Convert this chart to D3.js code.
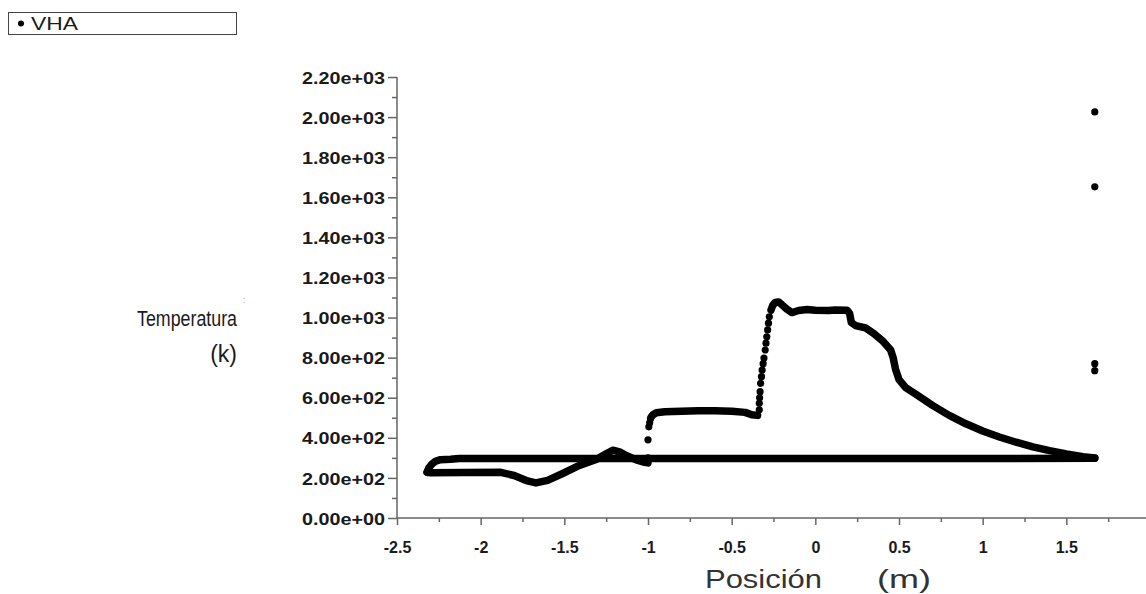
<!DOCTYPE html>
<html>
<head>
<meta charset="utf-8">
<script src="https://cdn.jsdelivr.net/npm/d3@7"></script>
<style>
  body { margin: 0; background: #fff; }
  svg { display: block; font-family: "Liberation Sans", Arial, sans-serif; }
</style>
</head>
<body>
<div id="chart"></div>
<script>
// Tick values and labels
const xTicks = [-2.5, -2, -1.5, -1, -0.5, 0, 0.5, 1, 1.5, 2];
const xTickLabels = ["-2.5", "-2", "-1.5", "-1", "-0.5", "0", "0.5", "1", "1.5", "2"];
const yTicks = [0, 200, 400, 600, 800, 1000, 1200, 1400, 1600, 1800, 2000, 2200];
const yTickLabels = ["0.00e+00", "2.00e+02", "4.00e+02", "6.00e+02", "8.00e+02", "1.00e+03",
                     "1.20e+03", "1.40e+03", "1.60e+03", "1.80e+03", "2.00e+03", "2.20e+03"];

// VHA series (position m, temperature K)
// dense branches
const flatX = [-2.32, -2.31, -2.29, -2.27, -2.24, -2.18, -2.13, -1.5, -1.0, 0, 1.0, 1.67];
const flatT = [228, 250, 270, 283, 291, 293, 297, 297, 297, 297, 297, 298];

const lowX = [-2.32, -2.30, -2.10, -1.88, -1.80, -1.72, -1.67, -1.60, -1.51, -1.41, -1.31, -1.25, -1.21, -1.17, -1.13, -1.07, -1.02, -1.0];
const lowT = [228, 226, 227, 228, 212, 185, 175, 188, 222, 262, 292, 320, 338, 330, 312, 290, 278, 275];

const plateauX = [-0.98, -0.97, -0.95, -0.9, -0.8, -0.7, -0.6, -0.5, -0.42, -0.38, -0.345];
const plateauT = [505, 515, 525, 530, 533, 535, 535, 533, 527, 515, 512];

const topX = [-0.265, -0.255, -0.24, -0.22, -0.2, -0.17, -0.14, -0.1, -0.05, 0, 0.08, 0.12, 0.19, 0.205, 0.215,
              0.24, 0.3, 0.35, 0.4, 0.45, 0.465, 0.48, 0.5, 0.54, 0.6, 0.7, 0.8, 0.9, 1.0, 1.1, 1.2, 1.3, 1.4, 1.5, 1.6, 1.67];
const topT = [1037, 1060, 1075, 1078, 1064, 1042, 1025, 1035, 1040, 1036, 1035, 1038, 1037, 1020, 975,
              960, 948, 920, 885, 838, 800, 740, 690, 650, 618, 562, 512, 470, 434, 404, 378, 355, 336, 320, 306, 299];

// sparse points (jumps and outliers)
const sparseX = [-1.0, -1.0, -1.0, -0.995, -0.99, -0.985,
                 -0.335, -0.335, -0.333, -0.33, -0.327, -0.322, -0.318, -0.312, -0.307, -0.30, -0.295, -0.29, -0.285, -0.28, -0.275,
                 1.67, 1.67, 1.67, 1.67];
const sparseT = [300, 288, 390, 455, 475, 495,
                 540, 572, 600, 630, 672, 705, 738, 770, 798, 838, 872, 904, 938, 972, 1004,
                 735, 770, 1652, 2026];

const width = 1146, height = 594;
const svg = d3.select("#chart").append("svg")
    .attr("width", width)
    .attr("height", height);

const x = d3.scaleLinear().domain([-2.5, 2]).range([397, 1150]);
const y = d3.scaleLinear().domain([0, 2200]).range([518, 77]);

const axisColor = "#666";
const textColor = "#1a1a1a";

// minor ticks halfway between the majors
const xMinor = xTicks.slice(0, -1).map((t, i) => (t + xTicks[i + 1]) / 2);
const yMinor = yTicks.slice(0, -1).map((t, i) => (t + yTicks[i + 1]) / 2);

// x axis
const gx = svg.append("g").attr("transform", `translate(0,${y(0)})`);
gx.call(d3.axisBottom(x).tickValues(xMinor).tickSize(4).tickFormat(""));
gx.call(g => g.append("g").call(d3.axisBottom(x).tickValues(xTicks).tickSize(7)
    .tickFormat((d, i) => xTickLabels[i])));
gx.selectAll(".domain").remove();
gx.append("line").attr("x1", x(-2.5)).attr("x2", width).attr("stroke", axisColor).attr("stroke-width", 1.5);
gx.selectAll("line").attr("stroke", axisColor).attr("stroke-width", 1.5);
gx.selectAll("text")
    .attr("fill", textColor)
    .style("font-size", "16px")
    .style("font-weight", "bold")
    .attr("y", 35)
    .attr("dy", 0);

// y axis
const gy = svg.append("g").attr("transform", `translate(${x(-2.5)},0)`);
gy.call(d3.axisLeft(y).tickValues(yMinor).tickSize(5).tickFormat(""));
gy.call(g => g.append("g").call(d3.axisLeft(y).tickValues(yTicks).tickSize(9)
    .tickFormat((d, i) => yTickLabels[i])));
gy.selectAll(".domain").remove();
gy.append("line").attr("y1", y(0)).attr("y2", y(2200)).attr("stroke", axisColor).attr("stroke-width", 1.5);
gy.selectAll("line").attr("stroke", axisColor).attr("stroke-width", 1.5);
gy.selectAll("text")
    .attr("fill", textColor)
    .style("font-size", "17px")
    .style("font-weight", "bold")
    .attr("x", -12)
    .attr("dy", "0.36em")
    .attr("textLength", 83)
    .attr("lengthAdjust", "spacingAndGlyphs");

// data marks
const line = d3.line().x(d => x(d[0])).y(d => y(d[1]));
const dense = [
    d3.zip(flatX, flatT),
    d3.zip(lowX, lowT),
    d3.zip(plateauX, plateauT),
    d3.zip(topX, topT)
];
svg.append("g").selectAll("path")
    .data(dense)
    .enter()
    .append("path")
    .attr("d", line)
    .attr("fill", "none")
    .attr("stroke", "#000")
    .attr("stroke-width", 7.5)
    .attr("stroke-linecap", "round")
    .attr("stroke-linejoin", "round");

svg.append("g").selectAll("circle")
    .data(d3.zip(sparseX, sparseT))
    .enter()
    .append("circle")
    .attr("cx", d => x(d[0]))
    .attr("cy", d => y(d[1]))
    .attr("r", 3.6)
    .attr("fill", "#000");

// axis titles
svg.append("text")
    .attr("x", 237).attr("y", 326)
    .attr("text-anchor", "end")
    .attr("fill", textColor)
    .style("font-size", "22px")
    .attr("textLength", 100)
    .attr("lengthAdjust", "spacingAndGlyphs")
    .text("Temperatura");
svg.append("text")
    .attr("x", 237).attr("y", 362)
    .attr("text-anchor", "end")
    .attr("fill", textColor)
    .style("font-size", "23px")
    .text("(k)");
svg.append("text")
    .attr("x", 243).attr("y", 303)
    .attr("fill", "#aaa")
    .style("font-size", "9px")
    .text(":");
svg.append("text")
    .attr("x", 705).attr("y", 588)
    .attr("fill", "#333")
    .style("font-size", "26px")
    .attr("textLength", 117)
    .attr("lengthAdjust", "spacingAndGlyphs")
    .text("Posición");
svg.append("text")
    .attr("x", 877).attr("y", 588)
    .attr("fill", "#333")
    .style("font-size", "26px")
    .attr("textLength", 54)
    .attr("lengthAdjust", "spacingAndGlyphs")
    .text("(m)");

// legend
const legend = svg.append("g");
legend.append("rect")
    .attr("x", 8.5).attr("y", 12.5)
    .attr("width", 228).attr("height", 22)
    .attr("fill", "#fff")
    .attr("stroke", "#444")
    .attr("stroke-width", 1);
legend.append("circle").attr("cx", 21).attr("cy", 23.5).attr("r", 3).attr("fill", "#000");
legend.append("text")
    .attr("x", 31).attr("y", 30)
    .attr("fill", textColor)
    .style("font-size", "18px")
    .attr("textLength", 47)
    .attr("lengthAdjust", "spacingAndGlyphs")
    .text("VHA");
</script>
</body>
</html>
